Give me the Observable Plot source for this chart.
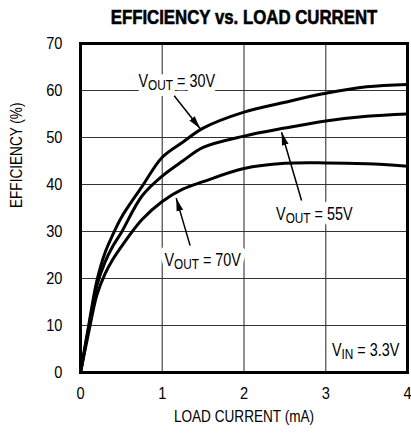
<!DOCTYPE html>
<html><head><meta charset="utf-8">
<script src="https://cdn.jsdelivr.net/npm/d3@7"></script>
<script src="https://cdn.jsdelivr.net/npm/@observablehq/plot@0.6"></script>
<style>
body{margin:0;background:#fff;position:relative;width:411px;height:435px;}
#title{position:absolute;left:243.5px;top:6px;transform:translateX(-50%) scaleX(0.84);font-weight:bold;font-size:20px;font-family:"Liberation Sans",Arial,sans-serif;white-space:nowrap;color:#000;-webkit-text-stroke:0.6px #000;z-index:2;}
#chart{position:absolute;left:0;top:0;}
</style></head><body>
<div id="title">EFFICIENCY vs. LOAD CURRENT</div>
<div id="chart"></div>
<script>
// Data
const current = [0, 0.1, 0.2, 0.3, 0.4, 0.5, 0.75, 1, 1.25, 1.5, 2, 2.5, 3, 3.5, 4];
const eff30 = [0, 10, 19.5, 25.5, 29.5, 33, 39.5, 45.8, 49, 52, 55.4, 57.5, 59.4, 60.8, 61.3];
const eff55 = [0, 9.5, 18.5, 23.5, 27, 29.8, 37.5, 41.8, 45, 47.9, 50.3, 52.0, 53.5, 54.5, 55.0];
const eff70 = [0, 8.5, 16.5, 21, 24.2, 26.8, 32.5, 36.4, 39.0, 40.6, 43.4, 44.5, 44.6, 44.4, 43.9];
const seriesNames = ["30V", "55V", "70V"];

const xTickValues = [0, 1, 2, 3, 4];
const yTickValues = [0, 10, 20, 30, 40, 50, 60, 70];
const xGrid = [1, 2, 3];
const yGrid = [10, 20, 30, 40, 50, 60];

// Annotations (data coordinates)
const labelText = ["V|OUT| = 30V", "V|OUT| = 55V", "V|OUT| = 70V"];
const labelX = [1.177, 2.86, 1.494];
const labelY = [62.0, 33.7, 23.8];
const arrowX1 = [1.146, 2.704, 1.341];
const arrowY1 = [58.9, 36.6, 27.0];
const arrowX2 = [1.463, 2.46, 1.171];
const arrowY2 = [51.9, 51.1, 37.1];
const vinText = "V|IN| = 3.3V";
const vinX = 3.9;
const vinY = 4.7;

const FONT = '"Liberation Sans",Arial,sans-serif';

const effs = [eff30, eff55, eff70];
const lineData = [];
seriesNames.forEach((s, k) => current.forEach((x, i) => lineData.push({x, y: effs[k][i], s})));
const labels = labelText.map((t, i) => ({t, x: labelX[i], y: labelY[i]}));
const arrows = arrowX1.map((d, i) => ({x1: arrowX1[i], y1: arrowY1[i], x2: arrowX2[i], y2: arrowY2[i]}));

const chart = Plot.plot({
  width: 411, height: 435,
  marginTop: 43, marginLeft: 80, marginRight: 4, marginBottom: 63,
  x: {domain: [0, 4], ticks: xTickValues, tickSize: 0, tickPadding: 14, tickFormat: d => String(d), label: null},
  y: {domain: [0, 70], ticks: yTickValues, tickSize: 0, tickPadding: 18, label: null},
  style: {fontFamily: FONT, fontSize: "17px", color: "black", background: "transparent"},
  marks: [
    Plot.ruleX(xGrid, {stroke: "#555", strokeWidth: 1.3}),
    Plot.ruleY(yGrid, {stroke: "#333", strokeWidth: 1.1}),
    Plot.line(lineData, {x: "x", y: "y", z: "s", stroke: "black", strokeWidth: 3, curve: "catmull-rom"}),
    Plot.text(labels, {x: "x", y: "y", text: "t", fontSize: 18, fill: "white", stroke: "white", strokeWidth: 12, ariaLabel: "halo"}),
    Plot.text(labels, {x: "x", y: "y", text: "t", fontSize: 18, fill: "black"}),
    Plot.text([vinText], {x: vinX, y: vinY, text: d => d, fontSize: 18, textAnchor: "end", fill: "black"}),
    Plot.link(arrows, {x1: "x1", y1: "y1", x2: "x2", y2: "y2", stroke: "black", strokeWidth: 1.5, markerEnd: "arrow"}),
    Plot.text(["LOAD CURRENT (mA)"], {frameAnchor: "bottom", dy: 49, fontSize: 17}),
    Plot.text(["EFFICIENCY (%)"], {frameAnchor: "left", dx: -64, rotate: -90, fontSize: 17}),
    Plot.frame({stroke: "black", strokeWidth: 3})
  ]
});

const svg = d3.select(chart);
svg.selectAll("marker").each(function () {
  const m = d3.select(this);
  m.attr("viewBox", "-10 -5 10 10").attr("markerUnits", "userSpaceOnUse")
    .attr("markerWidth", 13).attr("markerHeight", 13)
    .attr("fill", "black").attr("stroke", "none");
  m.selectAll("path").attr("d", "M-10,-2.6L0,0L-10,2.6Z");
});
svg.selectAll("text").filter(function () { return this.textContent.includes("|"); }).each(function () {
  const parts = this.textContent.split("|");
  const t = d3.select(this);
  t.text(null);
  t.append("tspan").text(parts[0]);
  t.append("tspan").attr("font-size", "0.82em").attr("dy", "3").text(parts[1]);
  t.append("tspan").attr("dy", "-3").text(parts[2]);
});
// condense glyphs horizontally (reference uses a condensed face)
svg.selectAll("text").each(function () {
  const g = this.closest("g[aria-label]");
  const lab = g ? g.getAttribute("aria-label") : "";
  const k = /tick label/.test(lab) ? 0.86 : 0.8;
  const tr = this.getAttribute("transform");
  if (tr) this.setAttribute("transform", tr + ` scale(${k},1)`);
});
document.getElementById("chart").appendChild(chart);
</script>
</body></html>
